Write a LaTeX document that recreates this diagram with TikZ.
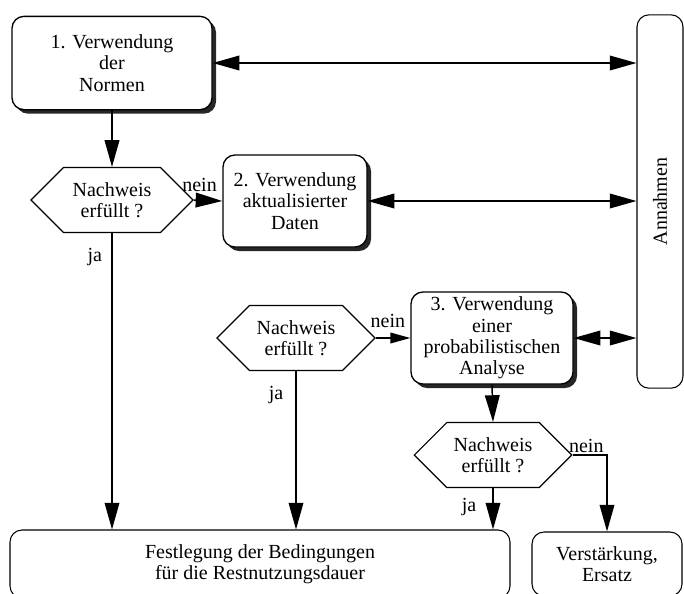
\documentclass[tikz,border=0pt]{standalone}
\usepackage{fontspec}
\setmainfont{Liberation Serif}
\usetikzlibrary{arrows.meta,shapes.symbols,shadows}

\tikzset{
  box/.style={draw, line width=1pt, rounded corners=9pt, fill=white, align=center, inner sep=2pt},
  shadowbox/.style={box, drop shadow={shadow xshift=3pt, shadow yshift=-3pt, fill=black!85, opacity=1}},
  quest/.style={draw, line width=0.9pt, signal, signal to=east and west, signal pointer angle=90,
    fill=white, align=center, inner sep=1pt, minimum height=48.75pt},
  conn/.style={line width=1.1pt, -{Triangle[length=20pt,width=11pt]}},
  smallconn/.style={line width=1.1pt, -{Triangle[length=15pt,width=8pt]}},
  twoway/.style={line width=1.1pt, {Triangle[length=20pt,width=11pt]}-{Triangle[length=20pt,width=11pt]}},
  lbl/.style={inner sep=1pt},
}

\begin{document}
\begin{tikzpicture}[x=0.75pt,y=0.75pt,yscale=-1,xscale=1,font=\fontsize{15}{16}\selectfont]
\useasboundingbox (0,0) rectangle (684,593);

% Boxes
\node [shadowbox, minimum width=150pt, minimum height=70pt] (norm) at (112,63) {1. Verwendung\\der\\Normen};
\node [shadowbox, minimum width=108pt, minimum height=69pt] (daten) at (295,201) {2. Verwendung\\aktualisierter\\Daten};
\node [shadowbox, minimum width=121.5pt, minimum height=69pt] (analyse) at (492,338) {3. Verwendung\\einer\\probabilistischen\\Analyse};
\node [box, line width=0.8pt, minimum width=34.5pt, minimum height=280pt] (ann) at (660,201.5) {};
\node [rotate=90] (anntxt) at (ann.center) {Annahmen};
\node [box, line width=0.8pt, minimum width=375pt, minimum height=51pt] (fest) at (260,564) {Festlegung der Bedingungen\\für die Restnutzungsdauer};
\node [box, line width=0.8pt, minimum width=112.5pt, minimum height=48pt] (verst) at (607,564) {Verstärkung,\\Ersatz};

% Questions
\node [quest, minimum width=121.5pt] (q1) at (112,200) {Nachweis\\erfüllt ?};
\node [quest, minimum width=118.5pt] (q2) at (296,338) {Nachweis\\erfüllt ?};
\node [quest, minimum width=118pt] (q3) at (493,455) {Nachweis\\erfüllt ?};

% Arrows
\draw [twoway] (norm.east) -- (norm.east -| ann.west);
\draw [twoway] (daten.east) -- (daten.east -| ann.west);
\draw [twoway] (analyse.east) -- (analyse.east -| ann.west);
\draw [conn] (norm.south) -- (q1.north);
\draw [conn] (q1.east) -- (daten.west) node [lbl, pos=0.2, above=5pt] {nein};
\draw [smallconn] (q2.east) -- (analyse.west) node [lbl, pos=0.35, above=6pt] {nein};
\draw [conn] (analyse.south) -- (q3.north);
\draw [conn] (q1.south) -- (q1.south |- fest.north) node [lbl, pos=0.08, left=6pt] {ja};
\draw [conn] (q2.south) -- (q2.south |- fest.north) node [lbl, pos=0.15, left=8pt] {ja};
\draw [conn] (q3.south) -- (q3.south |- fest.north) node [lbl, pos=0.45, left=11pt] {ja};
\draw [conn] (q3.east) -| (verst.north) node [lbl, pos=0.2, above] {nein};

\end{tikzpicture}
\end{document}
